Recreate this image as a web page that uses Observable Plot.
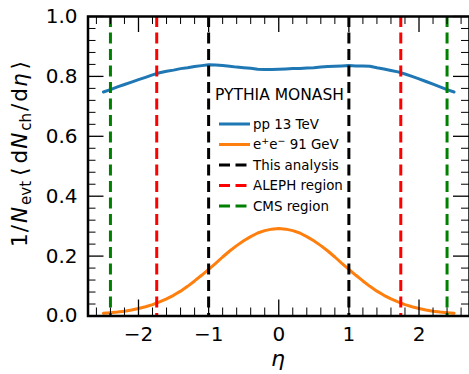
<!DOCTYPE html>
<html><head><meta charset="utf-8">
<script src="https://cdn.jsdelivr.net/npm/d3@7"></script>
<script src="https://cdn.jsdelivr.net/npm/@observablehq/plot@0.6"></script>
<style>
body{margin:0;background:#fff}
svg{font-family:"DejaVu Sans",sans-serif}
</style>
</head><body><div id="chart"></div>
<script>
// ---- data ----
const eta = [-2.5,-2.4,-2.3,-2.2,-2.1,-2.0,-1.9,-1.8,-1.7,-1.6,-1.5,-1.4,-1.3,-1.2,-1.1,-1.0,-0.9,-0.8,-0.7,-0.6,-0.5,-0.4,-0.3,-0.2,-0.1,0.0,0.1,0.2,0.3,0.4,0.5,0.6,0.7,0.8,0.9,1.0,1.1,1.2,1.3,1.4,1.5,1.6,1.7,1.8,1.9,2.0,2.1,2.2,2.3,2.4,2.5];
const ppValues = [0.748,0.756,0.765,0.773,0.781,0.789,0.797,0.805,0.812,0.817,0.821,0.826,0.829,0.833,0.836,0.839,0.838,0.836,0.834,0.831,0.829,0.827,0.824,0.823,0.823,0.824,0.825,0.826,0.826,0.828,0.829,0.831,0.833,0.834,0.835,0.836,0.835,0.835,0.834,0.829,0.825,0.820,0.815,0.808,0.800,0.792,0.783,0.774,0.765,0.756,0.748];
const eeValues = [0.009,0.011,0.013,0.016,0.020,0.025,0.031,0.038,0.047,0.057,0.069,0.083,0.099,0.117,0.136,0.156,0.176,0.197,0.217,0.235,0.251,0.265,0.277,0.285,0.290,0.292,0.290,0.285,0.277,0.265,0.251,0.235,0.217,0.197,0.176,0.156,0.136,0.117,0.099,0.083,0.069,0.057,0.047,0.038,0.031,0.025,0.020,0.016,0.013,0.011,0.009];
const analysisCuts = [-1, 1];
const alephCuts = [-1.74, 1.74];
const cmsCuts = [-2.4, 2.4];
const xMajorTicks = [-2, -1, 0, 1, 2];
const xMinorTicks = [-2.6,-2.4,-2.2,-1.8,-1.6,-1.4,-1.2,-0.8,-0.6,-0.4,-0.2,0.2,0.4,0.6,0.8,1.2,1.4,1.6,1.8,2.2,2.4,2.6];
const yMajorTicks = [0, 0.2, 0.4, 0.6, 0.8, 1.0];
const yMinorTicks = [0.04,0.08,0.12,0.16,0.24,0.28,0.32,0.36,0.44,0.48,0.52,0.56,0.64,0.68,0.72,0.76,0.84,0.88,0.92,0.96];
const legendTitle = "PYTHIA MONASH";
const seriesLabels = ["pp 13 TeV", "e+e− 91 GeV", "This analysis", "ALEPH region", "CMS region"];
const seriesColors = ["#1f77b4", "#ff7f0e", "black", "#ff0000", "#008000"];

const pp = eta.map((e, i) => ({eta: e, v: ppValues[i]}));
const ee = eta.map((e, i) => ({eta: e, v: eeValues[i]}));
const fmtX = d => d < 0 ? "\u2212" + Math.abs(d) : String(d);
const dash = "11,5.5";

const W = 469, H = 374, ML = 87.5, MR = 0, MT = 16, MB = 58.5;
const PW = W - ML - MR, PH = H - MT - MB;
const MAJ = 16, MIN = 8;

// inward ticks on all four sides
const ticks = [
  Plot.tickX(xMajorTicks, {x: d => d, insetTop: PH - MAJ, stroke: "black", strokeWidth: 1.3}),
  Plot.tickX(xMajorTicks, {x: d => d, insetBottom: PH - MAJ, stroke: "black", strokeWidth: 1.3}),
  Plot.tickX(xMinorTicks, {x: d => d, insetTop: PH - MIN, stroke: "black", strokeWidth: 1}),
  Plot.tickX(xMinorTicks, {x: d => d, insetBottom: PH - MIN, stroke: "black", strokeWidth: 1}),
  Plot.tickY(yMajorTicks, {y: d => d, insetRight: PW - MAJ, stroke: "black", strokeWidth: 1.3}),
  Plot.tickY(yMajorTicks, {y: d => d, insetLeft: PW - MAJ, stroke: "black", strokeWidth: 1.3}),
  Plot.tickY(yMinorTicks, {y: d => d, insetRight: PW - MIN, stroke: "black", strokeWidth: 1}),
  Plot.tickY(yMinorTicks, {y: d => d, insetLeft: PW - MIN, stroke: "black", strokeWidth: 1})
];

const chart = Plot.plot({
  width: W, height: H,
  marginLeft: ML, marginRight: MR, marginTop: MT, marginBottom: MB,
  style: {fontFamily: "DejaVu Sans", fontSize: "20px", color: "black", background: "white", overflow: "visible"},
  x: {domain: [-2.72, 2.72], label: null},
  y: {domain: [0, 1], label: null},
  marks: [
    Plot.line(pp, {x: "eta", y: "v", stroke: seriesColors[0], strokeWidth: 3}),
    Plot.line(ee, {x: "eta", y: "v", stroke: seriesColors[1], strokeWidth: 3}),
    Plot.ruleX(analysisCuts, {stroke: seriesColors[2], strokeWidth: 3, strokeDasharray: dash}),
    Plot.ruleX(alephCuts, {stroke: seriesColors[3], strokeWidth: 3, strokeDasharray: dash}),
    Plot.ruleX(cmsCuts, {stroke: seriesColors[4], strokeWidth: 3, strokeDasharray: dash}),
    ...ticks,
    Plot.axisX(xMajorTicks, {anchor: "bottom", tickSize: 0, tickPadding: 11, tickFormat: fmtX, label: null, fontSize: 20, fill: "black"}),
    Plot.axisY(yMajorTicks, {anchor: "left", tickSize: 0, tickPadding: 10.5, tickFormat: d3.format(".1f"), label: null, fontSize: 20, fill: "black"}),
    Plot.frame({stroke: "black", strokeWidth: 2.5})
  ]
});
document.getElementById("chart").appendChild(chart);

// ---- legend and axis titles ----
const svg = d3.select(chart);
const lg = svg.append("g").attr("font-family", "DejaVu Sans").attr("fill", "black").attr("text-anchor", "start");
lg.append("text").attr("x", 215).attr("y", 99.5).attr("font-size", 15.5).text(legendTitle);
const rowY = [124, 144.5, 165, 185.5, 206];
seriesLabels.forEach((lab, i) => {
  lg.append("line").attr("x1", 219).attr("x2", 250).attr("y1", rowY[i]).attr("y2", rowY[i])
    .attr("stroke", seriesColors[i]).attr("stroke-width", 3)
    .attr("stroke-dasharray", i >= 2 ? dash : null);
  const t = lg.append("text").attr("x", 253).attr("y", rowY[i] + 4.8).attr("font-size", 13.4);
  if (lab.startsWith("e+e−")) {
    t.append("tspan").text("e");
    t.append("tspan").attr("dy", -5).attr("font-size", 9.5).text("+");
    t.append("tspan").attr("dy", 5).text("e");
    t.append("tspan").attr("dy", -5).attr("font-size", 9.5).text("\u2212");
    t.append("tspan").attr("dy", 5).text("\u00a091 GeV");
  } else {
    t.text(lab);
  }
});

// y-axis title: 1/N_evt <dN_ch/d eta>
const yt = svg.append("text").attr("font-family", "DejaVu Sans").attr("font-size", 21.5).attr("fill", "black")
  .attr("transform", "translate(27,154) rotate(-90)").attr("text-anchor", "middle");
yt.append("tspan").text("1");
yt.append("tspan").attr("dx", 1).text("/");
yt.append("tspan").attr("dx", 2).attr("font-style", "italic").text("N");
yt.append("tspan").attr("dx", 2).attr("font-size", 15).attr("dy", 4).text("evt");
yt.append("tspan").attr("dx", 5).attr("dy", -4).text("\u27e8");
yt.append("tspan").attr("dx", 4).text("d");
yt.append("tspan").attr("dx", 1).attr("font-style", "italic").text("N");
yt.append("tspan").attr("dx", 2).attr("font-size", 15).attr("dy", 4).text("ch");
yt.append("tspan").attr("dx", 2).attr("dy", -4).text("/");
yt.append("tspan").attr("dx", 2).text("d");
yt.append("tspan").attr("dx", 1).attr("font-style", "italic").text("\u03b7");
yt.append("tspan").attr("dx", 4).text("\u27e9");

svg.append("text").attr("font-family", "DejaVu Sans").attr("font-size", 22).attr("font-style", "italic")
  .attr("x", 278).attr("y", 366).attr("text-anchor", "middle").attr("fill", "black").text("\u03b7");
</script>
</body></html>
